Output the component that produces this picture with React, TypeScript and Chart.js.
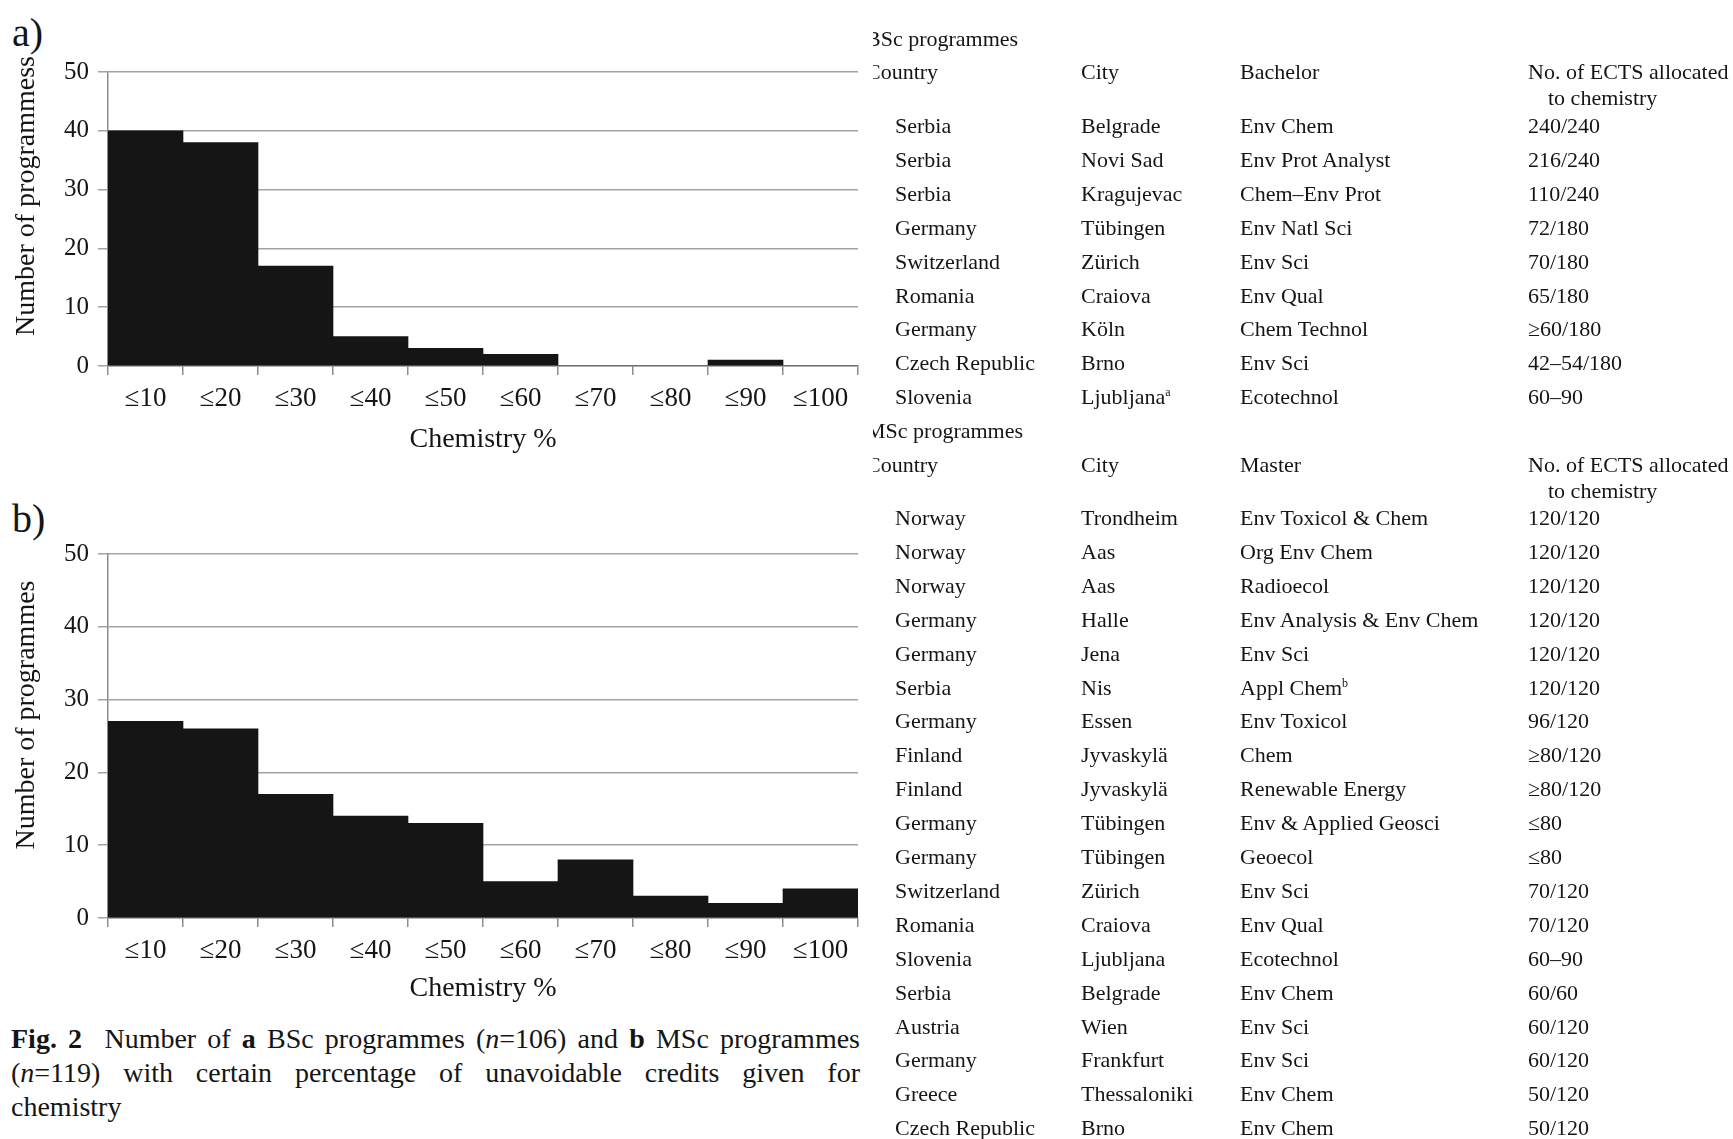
import React, { useEffect, useRef } from "react";
import { Chart, registerables } from "chart.js";

Chart.register(...registerables);

// ---------- data ----------
const categories = ["≤10", "≤20", "≤30", "≤40", "≤50", "≤60", "≤70", "≤80", "≤90", "≤100"];
const bscCounts = [40, 38, 17, 5, 3, 2, 0, 0, 1, 0];
const mscCounts = [27, 26, 17, 14, 13, 5, 8, 3, 2, 4];
const yMax = 50;
const yStep = 10;
const xAxisTitle = "Chemistry %";
const bscYTitle = "Number of programmess";
const mscYTitle = "Number of programmes";

const tableHeaderBsc = ["Country", "City", "Bachelor", "No. of ECTS allocated"];
const tableHeaderMsc = ["Country", "City", "Master", "No. of ECTS allocated"];
const headerSecondLine = "to chemistry";

const bscRows: [string, string, string, string, string?][] = [
  ["Serbia", "Belgrade", "Env Chem", "240/240"],
  ["Serbia", "Novi Sad", "Env Prot Analyst", "216/240"],
  ["Serbia", "Kragujevac", "Chem–Env Prot", "110/240"],
  ["Germany", "Tübingen", "Env Natl Sci", "72/180"],
  ["Switzerland", "Zürich", "Env Sci", "70/180"],
  ["Romania", "Craiova", "Env Qual", "65/180"],
  ["Germany", "Köln", "Chem Technol", "≥60/180"],
  ["Czech Republic", "Brno", "Env Sci", "42–54/180"],
  ["Slovenia", "Ljubljana", "Ecotechnol", "60–90", "a"],
];

const mscRows: [string, string, string, string, string?][] = [
  ["Norway", "Trondheim", "Env Toxicol & Chem", "120/120"],
  ["Norway", "Aas", "Org Env Chem", "120/120"],
  ["Norway", "Aas", "Radioecol", "120/120"],
  ["Germany", "Halle", "Env Analysis & Env Chem", "120/120"],
  ["Germany", "Jena", "Env Sci", "120/120"],
  ["Serbia", "Nis", "Appl Chem", "120/120", "b"],
  ["Germany", "Essen", "Env Toxicol", "96/120"],
  ["Finland", "Jyvaskylä", "Chem", "≥80/120"],
  ["Finland", "Jyvaskylä", "Renewable Energy", "≥80/120"],
  ["Germany", "Tübingen", "Env & Applied Geosci", "≤80"],
  ["Germany", "Tübingen", "Geoecol", "≤80"],
  ["Switzerland", "Zürich", "Env Sci", "70/120"],
  ["Romania", "Craiova", "Env Qual", "70/120"],
  ["Slovenia", "Ljubljana", "Ecotechnol", "60–90"],
  ["Serbia", "Belgrade", "Env Chem", "60/60"],
  ["Austria", "Wien", "Env Sci", "60/120"],
  ["Germany", "Frankfurt", "Env Sci", "60/120"],
  ["Greece", "Thessaloniki", "Env Chem", "50/120"],
  ["Czech Republic", "Brno", "Env Chem", "50/120"],
];

// ---------- styles ----------
const SERIF = "'Liberation Serif', 'Times New Roman', serif";
const INK = "#151515";

type HistProps = {
  values: number[];
  top: number;
  height: number;
  plotTop: number;
  plotBottom: number;
  titleGap: number;
};

function Histogram({ values, top, height, plotTop, plotBottom, titleGap }: HistProps) {
  const ref = useRef<HTMLCanvasElement | null>(null);
  const canvasWidth = 880;
  const plotLeft = 108;
  const plotRight = 858;

  useEffect(() => {
    if (!ref.current) return;
    const xHeight = height - (plotBottom - top);
    const titleFont = 28;
    const titleLH = titleFont * 1.2;
    const chart = new Chart(ref.current, {
      type: "bar",
      data: {
        labels: categories,
        datasets: [
          {
            data: values,
            backgroundColor: INK,
            borderWidth: 0,
            barPercentage: 1,
            categoryPercentage: 1,
          },
        ],
      },
      options: {
        animation: false,
        responsive: false,
        maintainAspectRatio: false,
        layout: {
          padding: { top: plotTop - top, right: canvasWidth - plotRight, left: 0, bottom: 0 },
        },
        plugins: { legend: { display: false }, tooltip: { enabled: false } },
        scales: {
          x: {
            type: "category",
            offset: true,
            grid: {
              offset: true,
              drawOnChartArea: false,
              drawTicks: true,
              tickLength: 9,
              color: "#8c8c8c",
              lineWidth: 1.5,
            },
            border: { display: true, color: "#8c8c8c", width: 1.5 },
            ticks: {
              color: INK,
              font: { family: SERIF, size: 27 },
              padding: 8,
              maxRotation: 0,
              autoSkip: false,
            },
            title: {
              display: true,
              text: xAxisTitle,
              color: INK,
              font: { family: SERIF, size: titleFont },
              padding: { top: 0, bottom: xHeight - titleGap - titleLH / 2 },
            },
            afterFit: (s: any) => {
              s.height = xHeight;
            },
          },
          y: {
            min: 0,
            max: yMax,
            ticks: {
              stepSize: yStep,
              color: INK,
              font: { family: SERIF, size: 25 },
              padding: 9,
            },
            grid: { color: "#a3a3a3", lineWidth: 1.5, tickLength: 10, drawTicks: true },
            border: { display: true, color: "#8c8c8c", width: 1.5 },
            afterFit: (s: any) => {
              s.width = plotLeft;
            },
          },
        },
      },
    });
    return () => chart.destroy();
  }, [values, top, height, plotTop, plotBottom, titleGap]);

  return (
    <canvas
      ref={ref}
      width={canvasWidth}
      height={height}
      style={{ position: "absolute", left: 0, top, width: canvasWidth, height }}
    />
  );
}

function YTitle({ text, cx, cy }: { text: string; cx: number; cy: number }) {
  return (
    <div
      style={{
        position: "absolute",
        left: cx,
        top: cy,
        width: 400,
        height: 34,
        lineHeight: "34px",
        fontSize: 28,
        textAlign: "center",
        whiteSpace: "nowrap",
        color: INK,
        transform: "translate(-50%, -50%) rotate(-90deg)",
      }}
    >
      {text}
    </div>
  );
}

function Cell({ x, y, text, size = 22, sup }: { x: number; y: number; text: string; size?: number; sup?: string }) {
  return (
    <div
      style={{
        position: "absolute",
        left: x,
        top: y - 13,
        lineHeight: "26px",
        fontSize: size,
        whiteSpace: "nowrap",
        color: INK,
      }}
    >
      {text}
      {sup ? <sup style={{ fontSize: 12, verticalAlign: "8px", lineHeight: 0 }}>{sup}</sup> : null}
    </div>
  );
}

function Table() {
  const off = 873; // clipping edge of the table block
  const colCountry = 895 - off;
  const colCity = 1081 - off;
  const colProg = 1240 - off;
  const colEcts = 1528 - off;
  const headerLeft = 866 - off;
  const rowStep = 33.9;

  const section = (
    title: string,
    header: string[],
    rows: [string, string, string, string, string?][],
    titleY: number,
    headerY: number,
    firstRowY: number
  ) => (
    <>
      <Cell x={headerLeft} y={titleY} text={title} />
      <Cell x={headerLeft} y={headerY} text={header[0]} />
      <Cell x={colCity} y={headerY} text={header[1]} />
      <Cell x={colProg} y={headerY} text={header[2]} />
      <Cell x={colEcts} y={headerY} text={header[3]} />
      <Cell x={colEcts + 20} y={headerY + 26} text={headerSecondLine} />
      {rows.map((r, i) => {
        const y = firstRowY + i * rowStep;
        const supCity = r[4] === "a" ? "a" : undefined;
        const supProg = r[4] === "b" ? "b" : undefined;
        return (
          <React.Fragment key={title + i}>
            <Cell x={colCountry} y={y} text={r[0]} />
            <Cell x={colCity} y={y} text={r[1]} sup={supCity} />
            <Cell x={colProg} y={y} text={r[2]} sup={supProg} />
            <Cell x={colEcts} y={y} text={r[3]} />
          </React.Fragment>
        );
      })}
    </>
  );

  return (
    <div
      style={{
        position: "absolute",
        left: off,
        top: 0,
        width: 1733 - off,
        height: 1139,
        overflow: "hidden",
      }}
    >
      {section("BSc programmes", tableHeaderBsc, bscRows, 39, 72, 126)}
      {section("MSc programmes", tableHeaderMsc, mscRows, 431, 465, 518)}
    </div>
  );
}

export default function App() {
  const lineStyle: React.CSSProperties = {
    position: "absolute",
    left: 11,
    width: 849,
    fontSize: 28,
    lineHeight: "34px",
    textAlign: "justify",
    textAlignLast: "justify",
    whiteSpace: "normal",
    color: INK,
  };
  return (
    <div
      style={{
        position: "absolute",
        left: 0,
        top: 0,
        width: 1733,
        height: 1139,
        background: "#fff",
        fontFamily: SERIF,
        overflow: "hidden",
      }}
    >
      <div style={{ position: "absolute", left: 12, top: 11, fontSize: 40, lineHeight: "44px", color: INK }}>a)</div>
      <div style={{ position: "absolute", left: 12, top: 497, fontSize: 40, lineHeight: "44px", color: INK }}>b)</div>

      <Histogram values={bscCounts} top={40} height={430} plotTop={72} plotBottom={366} titleGap={74} />
      <YTitle text={bscYTitle} cx={25} cy={196} />
      <Histogram values={mscCounts} top={520} height={490} plotTop={554} plotBottom={918} titleGap={71} />
      <YTitle text={mscYTitle} cx={25} cy={715} />

      <div style={{ ...lineStyle, top: 1022 }}>
        <b>Fig. 2</b>&nbsp;&nbsp;Number of <b>a</b> BSc programmes (<i>n</i>=106) and <b>b</b> MSc programmes
      </div>
      <div style={{ ...lineStyle, top: 1056 }}>
        (<i>n</i>=119) with certain percentage of unavoidable credits given for
      </div>
      <div style={{ ...lineStyle, top: 1090, textAlignLast: "left" }}>chemistry</div>

      <Table />
    </div>
  );
}
